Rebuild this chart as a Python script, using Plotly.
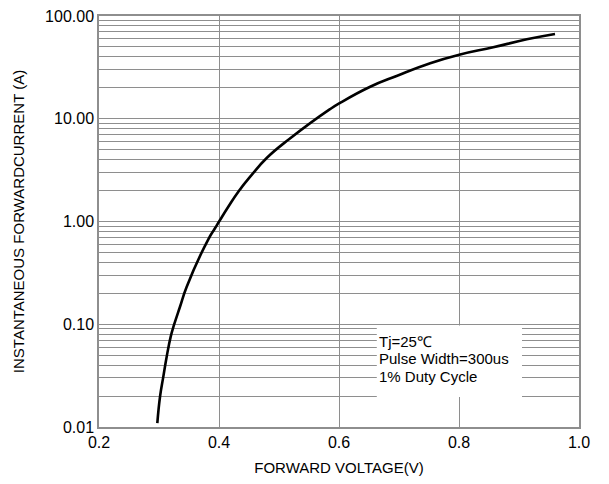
import plotly.graph_objects as go

# Data
voltage = [0.2972, 0.3017, 0.3072, 0.3128, 0.3195, 0.325, 0.335, 0.3462,
           0.3822, 0.3933, 0.4017, 0.4155, 0.4322, 0.4545, 0.4795, 0.5172,
           0.585, 0.602, 0.652, 0.696, 0.752, 0.802, 0.857, 0.913, 0.96]
current = [0.0109, 0.0197, 0.0309, 0.0483, 0.0757, 0.0984, 0.148, 0.232,
           0.671, 0.859, 1.034, 1.39, 1.95, 2.84, 4.15, 6.35,
           12.4, 14.3, 20.5, 26.1, 34.7, 42.2, 49.6, 59.3, 66.8]

x_ticks = [0.2, 0.4, 0.6, 0.8, 1.0]
x_tick_text = ["0.2", "0.4", "0.6", "0.8", "1.0"]
decades = [0.01, 0.1, 1, 10, 100]
decade_text = ["0.01", "0.10", "1.00", "10.00", "100.00"]
note_lines = ["Tj=25℃", "Pulse Width=300us", "1% Duty Cycle"]

# y grid: every 1..9 per decade, labels only at decades
y_vals, y_text = [], []
for d, t in zip(decades, decade_text):
    y_vals.append(d)
    y_text.append(t)
    if d < 100:
        for k in range(2, 10):
            y_vals.append(d * k)
            y_text.append("")

FONT = "Liberation Sans, Arial, sans-serif"
GRID = "#8e8e8e"

fig = go.Figure()
fig.add_trace(go.Scatter(
    x=voltage, y=current, mode="lines",
    line=dict(color="black", width=2.6, shape="spline", smoothing=1.3),
    showlegend=False, hoverinfo="skip",
))

fig.update_layout(
    width=601, height=476,
    margin=dict(l=91, r=30, t=8, b=57, autoexpand=False),
    paper_bgcolor="white", plot_bgcolor="white",
    font=dict(family=FONT, color="black"),
    showlegend=False,
    xaxis=dict(
        range=[0.2, 1.0], tickvals=x_ticks, ticktext=x_tick_text,
        showgrid=True, gridcolor=GRID, gridwidth=1.2,
        showline=True, linecolor=GRID, linewidth=1.5, mirror=True,
        ticks="", zeroline=False, automargin=False,
        ticklabeloverflow="allow",
        tickfont=dict(size=16, family=FONT, color="black"),
        title=dict(text="FORWARD VOLTAGE(V)", font=dict(size=15, family=FONT, color="black"), standoff=13),
    ),
    yaxis=dict(
        type="log", range=[-2, 2], tickvals=y_vals, ticktext=y_text,
        showgrid=True, gridcolor=GRID, gridwidth=1.2,
        showline=True, linecolor=GRID, linewidth=1.5, mirror=True,
        ticks="", zeroline=False, automargin=False,
        ticklabeloverflow="allow",
        tickfont=dict(size=16, family=FONT, color="black"),
        title=dict(text="INSTANTANEOUS FORWARDCURRENT (A)", font=dict(size=15, family=FONT, color="black"), standoff=17),
    ),
)

# white box behind the test-condition note
fig.add_shape(type="rect", xref="x", yref="y",
              x0=0.663, x1=0.905, y0=0.0196, y1=0.097,
              fillcolor="white", line=dict(width=0), layer="above")

for i, txt in enumerate(note_lines):
    fig.add_annotation(
        xref="paper", yref="paper", x=0.579, y=0.209 - i * 0.0435,
        text=txt, showarrow=False, xanchor="left", yanchor="middle",
        font=dict(size=15, family=FONT, color="black"),
    )

fig.write_html("out.html")
